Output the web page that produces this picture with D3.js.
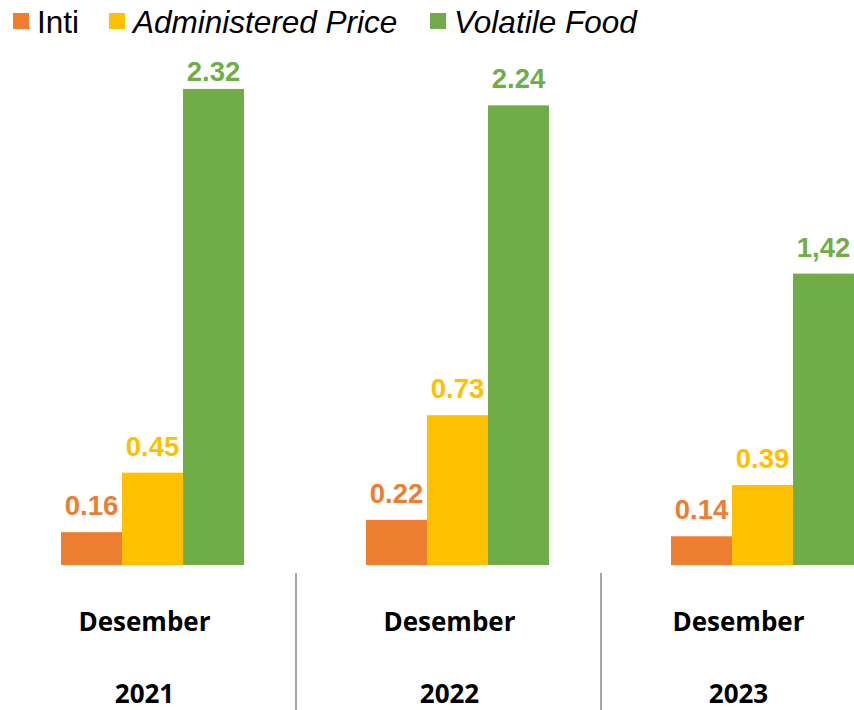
<!DOCTYPE html>
<html>
<head>
<meta charset="utf-8">
<script src="https://cdn.jsdelivr.net/npm/d3@7"></script>
<style>
  body { margin: 0; background: #fff; }
  svg { display: block; }
</style>
</head>
<body>
<div id="chart"></div>
<script>
// data
var categories = ["Desember 2021", "Desember 2022", "Desember 2023"]
var months = ["Desember", "Desember", "Desember"]
var years = ["2021", "2022", "2023"]
var seriesNames = ["Inti", "Administered Price", "Volatile Food"]
var inti = [0.16, 0.22, 0.14]
var administered = [0.45, 0.73, 0.39]
var volatileFood = [2.32, 2.24, 1.42]
// labels as printed on the chart (last one uses a comma)
var intiLabels = ["0.16", "0.22", "0.14"]
var administeredLabels = ["0.45", "0.73", "0.39"]
var volatileLabels = ["2.32", "2.24", "1,42"]

var colors = ["#ED7D31", "#FFC000", "#70AD47"]

var width = 854, height = 710

var svg = d3.select("#chart")
  .append("svg")
  .attr("width", width)
  .attr("height", height)

// scales
var x0 = d3.scaleBand()
  .domain(categories)
  .range([0, 915])
  .paddingInner(0.4)
  .paddingOuter(0.2)

var x1 = d3.scaleBand()
  .domain(seriesNames)
  .range([0, x0.bandwidth()])

var y = d3.scaleLinear()
  .domain([0, 2.5])
  .range([565, 52])

var table = categories.map(function(c, i) {
  return {
    cat: c,
    items: [
      {name: seriesNames[0], value: inti[i], label: intiLabels[i]},
      {name: seriesNames[1], value: administered[i], label: administeredLabels[i]},
      {name: seriesNames[2], value: volatileFood[i], label: volatileLabels[i]}
    ]
  }
})

var color = d3.scaleOrdinal().domain(seriesNames).range(colors)

var groups = svg.selectAll(".grp")
  .data(table)
  .enter().append("g")
  .attr("class", "grp")
  .attr("transform", function(d) { return "translate(" + x0(d.cat) + ",0)" })

groups.selectAll("rect")
  .data(function(d) { return d.items })
  .enter().append("rect")
  .attr("x", function(d) { return x1(d.name) })
  .attr("width", x1.bandwidth())
  .attr("y", function(d) { return y(d.value) })
  .attr("height", function(d) { return y(0) - y(d.value) })
  .attr("fill", function(d) { return color(d.name) })

// value labels, kept inside the plot top like excel does
groups.selectAll(".val")
  .data(function(d) { return d.items })
  .enter().append("text")
  .attr("class", "val")
  .attr("x", function(d) { return x1(d.name) + x1.bandwidth() / 2 })
  .attr("y", function(d) { return Math.max(y(d.value) - 17, 81) })
  .attr("text-anchor", "middle")
  .attr("font-family", "'Liberation Sans', Arial, sans-serif")
  .attr("font-weight", "bold")
  .attr("font-size", 27.5)
  .attr("fill", function(d) { return color(d.name) })
  .text(function(d) { return d.label })

// category labels (slightly off-centre in the original)
var labelShift = [-8, -8, -24]
svg.selectAll(".month")
  .data(categories)
  .enter().append("text")
  .attr("class", "month")
  .attr("x", function(d, i) { return x0(d) + x0.bandwidth() / 2 + labelShift[i] })
  .attr("y", 631)
  .attr("text-anchor", "middle")
  .attr("font-family", "'Open Sans', sans-serif")
  .attr("font-weight", "bold")
  .attr("font-size", 26)
  .attr("fill", "#000")
  .text(function(d, i) { return months[i] })

svg.selectAll(".year")
  .data(categories)
  .enter().append("text")
  .attr("class", "year")
  .attr("x", function(d, i) { return x0(d) + x0.bandwidth() / 2 + labelShift[i] })
  .attr("y", 703)
  .attr("text-anchor", "middle")
  .attr("font-family", "'Open Sans', sans-serif")
  .attr("font-weight", "bold")
  .attr("font-size", 26)
  .attr("fill", "#000")
  .text(function(d, i) { return years[i] })

// separators between categories
svg.selectAll(".sep")
  .data(categories.slice(1))
  .enter().append("line")
  .attr("class", "sep")
  .attr("x1", function(d) { return x0(d) - x0.step() * x0.paddingInner() / 2 - 9 })
  .attr("x2", function(d) { return x0(d) - x0.step() * x0.paddingInner() / 2 - 9 })
  .attr("y1", 573)
  .attr("y2", 710)
  .attr("stroke", "#a6a6a6")
  .attr("stroke-width", 2)

// legend
var legendX = [13, 109, 430]
var legend = svg.selectAll(".leg")
  .data(seriesNames)
  .enter().append("g")
  .attr("class", "leg")
  .attr("transform", function(d, i) { return "translate(" + legendX[i] + ",0)" })

legend.append("rect")
  .attr("x", 0)
  .attr("y", 13)
  .attr("width", 16)
  .attr("height", 16)
  .attr("fill", function(d) { return color(d) })

legend.append("text")
  .attr("x", 24)
  .attr("y", 33)
  .attr("font-family", "'Liberation Sans', Arial, sans-serif")
  .attr("font-size", 31.5)
  .attr("font-style", function(d, i) { return i == 0 ? "normal" : "italic" })
  .attr("fill", "#000")
  .text(function(d) { return d })
</script>
</body>
</html>
